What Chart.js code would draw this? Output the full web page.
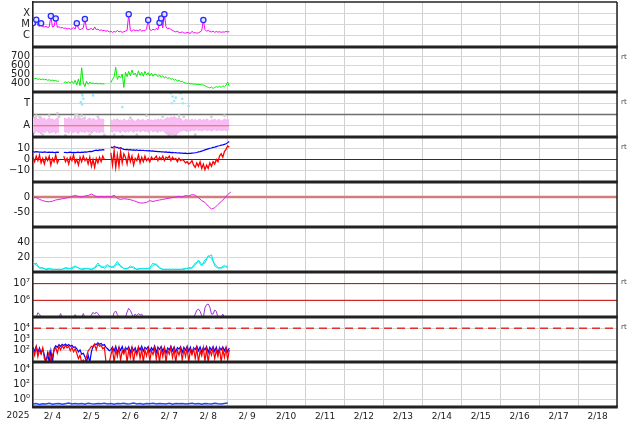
<!DOCTYPE html>
<html>
<head>
<meta charset="utf-8">
<script src="https://cdn.jsdelivr.net/npm/chart.js@4"></script>
<style>
  html, body { margin: 0; padding: 0; background: #fff; }
  canvas { display: block; }
</style>
</head>
<body>
<canvas id="chart" width="634" height="424"></canvas>
<script>
// x axis: days from 2/4 00:00, series are hourly samples unless noted
const dayLabels = ['2/ 4', '2/ 5', '2/ 6', '2/ 7', '2/ 8', '2/ 9', '2/10', '2/11', '2/12', '2/13', '2/14', '2/15', '2/16', '2/17', '2/18'];

// panel 1: x-ray flux in units of 1e-6 W/m2 (C1 = 1, M1 = 10, X1 = 100)
const xrayFlux = [13.5, 9, 27, 8, 7, 13, 6.5, 6, 6.8, 5.5,
  6, 57, 6, 7, 35, 5.5, 6.5, 5, 5.5, 4.5,
  4.8, 4, 4.5, 3.8, 4.2, 5.5, 4, 13, 4.5, 3.5,
  4, 5, 31, 4, 3.5, 3.8, 4.5, 3.2, 6, 3.5,
  3.8, 3, 3.3, 2.8, 3, 2.5, 2.8, 2.2, 2.5, 2,
  2.4, 2.1, 3, 2.2, 2.5, 2, 2.3, 2.6, 3, 81,
  3, 2.5, 3.5, 2.8, 3.2, 2.6, 3.8, 2.5, 3, 2.8,
  4, 25, 3.5, 3, 3.8, 3.2, 4.5, 3.5, 14.5, 35,
  5, 81, 6, 4, 5, 3.5, 3, 2.5, 2.2, 2.5,
  2, 1.9, 2.2, 1.8, 1.7, 2, 1.8, 1.6, 2.5, 1.8,
  1.9, 1.7, 1.8, 2.2, 2.8, 25, 3.5, 2.5, 3, 2.4,
  2.2, 2.6, 2, 2.4, 2.1, 2.3, 2, 2.2, 2.1, 2.4,
  2.2, 2.3];
const flareHours = [0, 2, 5, 11, 14, 27, 32, 59, 71, 78, 79, 81, 105];

// panel 2: solar wind speed km/s
const windSpeed = [455, 448, 452, 440, 446, 438, 444, 436, 440, 430, 436, 428, 432, 424, 428, 418, 422,
  null, null,
  405, 412, 400, 415, 398, 420, 395, 430, 380, 445, 370, 570, 400, 360, 420, 385, 410, 395, 400, 392, 398, 388, 395, 390, 392, 388,
  null, null, null,
  405, 440, 470, 575, 440, 480, 455, 500, 350,
  520, 470, 530, 480, 545, 490, 510, 470, 535, 485, 520, 475, 530, 490, 515, 480, 510, 475, 500,
  495, 470, 490, 465, 480, 455, 470, 450, 460, 440, 450, 430, 440, 420, 430, 415, 420,
  405, 400, 395, 398, 390, 392, 386, 388, 384, 385, 382, 380, 378,
  370, 360, 352, 345, 355, 340, 350,
  360, 352, 365, 350, 370, 358, 375, 410, 365];

// panel 3: IMF sector (T = +0.5, A = -0.5), upper and lower edge of the away cloud
const sectorHi = [-0.15, -0.2, -0.12, -0.25, -0.18, -0.1, -0.22, -0.15, -0.28, -0.2, -0.14, -0.24, -0.18, -0.3, -0.2, -0.16, -0.22,
  null, null,
  -0.2, -0.15, -0.25, -0.12, -0.2, -0.28, -0.18, -0.1, -0.22, -0.16, -0.26, -0.2, -0.14, -0.24, -0.3, -0.2, -0.15, -0.25, -0.18, -0.22, -0.28, -0.2, -0.16, -0.24, -0.2, -0.26,
  null, null, null,
  -0.22, -0.3, -0.2, -0.26, -0.18, -0.28, -0.24, -0.32, -0.2, -0.26,
  -0.3, -0.22, -0.28, -0.2, -0.26, -0.32, -0.24, -0.2, -0.28, -0.25,
  -0.22, -0.3, -0.26, -0.2, -0.28, -0.24, -0.3, -0.22, -0.26, -0.2,
  -0.24, -0.2, -0.26, -0.22, -0.18, -0.12, -0.2, -0.1, -0.16, -0.08,
  -0.14, -0.2, -0.12, -0.18, -0.26, -0.3, -0.2, -0.25, -0.22, -0.28,
  -0.2, -0.26, -0.22, -0.3, -0.24, -0.2, -0.28, -0.22, -0.26, -0.2,
  -0.24, -0.3, -0.22, -0.26, -0.2, -0.28, -0.24, -0.22, -0.3, -0.26,
  -0.2, -0.24, -0.28, -0.22];
const sectorLo = [-0.75, -0.85, -0.7, -0.8, -0.78, -0.88, -0.72, -0.82, -0.76, -0.7, -0.84, -0.78, -0.8, -0.72, -0.86, -0.76, -0.8,
  null, null,
  -0.72, -0.8, -0.76, -0.84, -0.7, -0.78, -0.82, -0.74, -0.8, -0.86, -0.72, -0.78, -0.76, -0.82, -0.7, -0.8, -0.74, -0.84, -0.78, -0.72, -0.8, -0.76, -0.82, -0.74, -0.78, -0.8,
  null, null, null,
  -0.74, -0.8, -0.7, -0.78, -0.72, -0.76, -0.82, -0.7, -0.75, -0.8,
  -0.72, -0.78, -0.7, -0.74, -0.8, -0.72, -0.76, -0.7, -0.78, -0.74,
  -0.7, -0.76, -0.72, -0.8, -0.74, -0.7, -0.78, -0.72, -0.76, -0.8,
  -0.72, -0.76, -0.7, -0.78, -0.84, -0.9, -0.8, -0.92, -0.86, -0.8,
  -0.9, -0.84, -0.78, -0.74, -0.72, -0.7, -0.72, -0.76, -0.7, -0.74,
  -0.68, -0.72, -0.7, -0.66, -0.72, -0.68, -0.74, -0.7, -0.66, -0.72,
  -0.7, -0.68, -0.74, -0.7, -0.66, -0.72, -0.7, -0.68, -0.72, -0.7,
  -0.68, -0.72, -0.7, -0.66];
const grayHours = [1, 2, 4, 6, 10, 15, 16, 20, 26, 27, 28, 29, 30, 32, 35, 40, 44, 50, 55, 60, 64, 70, 80, 84, 86, 87, 88, 90, 93, 100, 110, 118];
const grayVal = [-0.15, -0.05, -0.1, -0.9, -0.05, 0.05, -0.1, -0.92, -0.05, 0, -0.1, -0.2, -0.05, -0.15, -0.9, -0.1, -0.92, -0.9, -0.95, -0.15, -0.9, -0.05, -0.1, -0.92, -0.85, -0.95, -0.9, -0.05, -0.1, -0.9, -0.1, -0.05];
const cyanHours = [29.5, 30, 30.2, 30.5, 31, 37, 55, 85, 85.5, 86, 87, 88, 91, 92, 92.5, 96];
const cyanVal = [0.55, 0.95, 0.45, 0.85, 0.7, 0.85, 0.33, 0.95, 0.5, 0.8, 0.6, 0.75, 0.95, 0.7, 0.5, 0.38];

// panel 4: IMF Bt and Bz, nT
const imfBt = [7, 6.5, 7, 6.8, 6.5, 6.6, 6.4, 6.8, 6.5, 6.3, 6.6, 6.4, 6.5, 6.2, 6.4, 6.6, 6.3,
  null, null,
  6.2, 6.4, 6, 6.3, 6.5, 6.2, 6.4, 6.1, 6.3, 6.5, 6.2, 6.6, 6.4, 6.8, 6.5, 6.9, 7.2, 7, 7.5, 8, 8.3, 8, 8.6, 8.4, 8.8, 8.5,
  null, null, null,
  11, 10.5, 11.5, 11, 10.8, 10, 10.5, 9.5, 9,
  8.8, 9, 8.5, 8.7, 8.4, 8.6, 8.2, 8.5, 8, 8.3, 8, 8.2, 7.8, 8, 7.6, 7.8, 7.5, 7.6, 7.3,
  7.2, 7, 7.1, 6.8, 6.9, 6.6, 6.7, 6.4, 6.5, 6.2, 6.3, 6, 6.1, 5.8, 5.9, 5.6, 5.7,
  5.5, 5.6, 5.3, 5.5, 5.4, 5.6, 5.8, 6, 6.2, 6.8, 7, 7.5, 8,
  8.5, 9, 9.5, 10, 10.2, 10.8, 11,
  11.5, 12, 12.2, 12.8, 13, 13.5, 14, 15, 16];
const imfBz = [2, -2, 3, -1, 4, -3, 1, -4, 2, -1, 3, -5, 1, -2, 4, -3, 0,
  null, null,
  3, -2, 1, -4, 2, -1, 4, -3, 0, -5, 2, -2, 3, -1, 1, -4, 2, -6, 0, -7, 1, -3, 2, -2, 3, 0,
  null, null, null,
  6, -5, 8, -7, 4, -6, 7, -3, 5,
  2, -4, 5, -2, 3, -5, 1, -1, 4, -3, 2, -2, 3, -1, 1, -2, 2, 0, 1,
  3, -1, 2, 0, 3, -1, 2, 1, 3, -1, 2, 0, 1, -2, 1, -1, 0,
  -1, -3, -2, -4, -3, -1, -5, -7, -3, -6, -2, -8, -4,
  -9, -5, -8, -3, -6, -2, -4,
  0, -2, 3, 5, 2, 7, 9, 12, 11];

// panel 5: Dst, nT (2-hour samples)
const dstVal = [0, -2, -8, -12, -15, -16, -14, -10, -8, -6, -4, -2, 2, 5, 2, 0, 3, 5, 10, 4,
  0, 2, 0, 2, 0, 6, -5, -8, -6, -7, -9, -12, -16, -20, -20, -18, -12, -15, -12, -10,
  -8, -6, -4, -2, 0, 2, 0, 5, 3, 8, 6, -2, -12, -18, -30, -40, -36, -25, -15, -5, 8, 17];

// panel 6: two cyan traces (2-hour samples)
const cyanA = [13, 9, 6, 5, 4, 5, 3, 4, 3, 4, 5, 4, 6, 8, 5, 4, 5, 4, 4, 6,
  12, 6, 7, 10, 6, 8, 14, 7, 5, 4, 8, 5, 4, 4, 5, 4, 6, 12, 9, 5,
  4, 3, 4, 3, 4, 3, 4, 5, 4, 6, 12, 14, 8, 16, 20, 23, 8, 5, 6, 9, 5];
const cyanB = [10, 12, 5, 6, 3, 4, 4, 3, 4, 3, 6, 5, 4, 7, 6, 3, 4, 5, 3, 5,
  9, 8, 5, 8, 7, 6, 11, 9, 4, 5, 6, 7, 3, 5, 4, 5, 4, 9, 11, 6,
  3, 4, 3, 4, 3, 4, 3, 4, 6, 5, 9, 16, 10, 12, 22, 18, 11, 6, 5, 7, 8];

// panel 7: purple flux (log)
const purpleFlux = [9.5e4, 9.5e4, 9.5e4, 1.8e5, 1.5e5, 9.5e4, 9.5e4, 9.5e4, 9.5e4, 9.5e4,
  9.5e4, 9.5e4, 9.5e4, 9.5e4, 9.5e4, 9.5e4, 9.5e4, 1.6e5, 9.5e4, 9.5e4,
  9.5e4, 9.5e4, 9.5e4, 9.5e4, 9.5e4, 9.5e4, 1.4e5, 9.5e4, 9.5e4, 9.5e4,
  9.5e4, 1.6e5, 9.5e4, 9.5e4, 9.5e4, 9.5e4, 1.3e5, 1.9e5, 1.5e5, 2.0e5,
  1.6e5, 1.2e5, 9.5e4, 9.5e4, 9.5e4, 9.5e4, 9.5e4, 9.5e4, 9.5e4, 9.5e4,
  1.8e5, 2.3e5, 1.4e5, 9.5e4, 9.5e4, 9.5e4, 9.5e4, 9.5e4, 2.0e5, 3.3e5,
  2.5e5, 1.5e5, 9.5e4, 1.5e5, 1.2e5, 1.6e5, 1.3e5, 1.5e5, 9.5e4, 9.5e4,
  9.5e4, 9.5e4, 9.5e4, 9.5e4, 9.5e4, 9.5e4, 9.5e4, 9.5e4, 9.5e4, 9.5e4,
  9.5e4, 9.5e4, 9.5e4, 9.5e4, 9.5e4, 9.5e4, 9.5e4, 9.5e4, 9.5e4, 9.5e4,
  9.5e4, 9.5e4, 9.5e4, 9.5e4, 9.5e4, 9.5e4, 9.5e4, 9.5e4, 9.5e4, 9.5e4,
  1.5e5, 2.6e5, 3.0e5, 2.2e5, 1.2e5, 9.5e4, 3.5e5, 5.5e5, 6.0e5, 4.0e5,
  1.5e5, 1.5e5, 2.6e5, 2.2e5, 9.5e4, 9.5e4, 9.5e4, 1.5e5, 9.5e4, 9.5e4,
  9.5e4, 9.5e4];
const protonLevels = [1e7, 1e6];

// panel 8: electron flux, two channels (log)
const elecBlue = [200, 90, 250, 70, 180, 60, 150, 40,
  9.5, 60, 9.5, 100, 9.5,
  150, 280, 200, 350, 250, 380, 300, 400, 280, 350, 250, 300, 200, 220,
  150, 80, 120, 50, 60, 30,
  9.5, 40, 9.5, 80,
  250, 400, 350, 500, 380, 450, 300, 350,
  200, 150, 100,
  120, 220, 90, 250, 70, 200, 110, 240, 80, 190,
  130, 230, 70, 210, 100, 180, 60, 220, 120, 250,
  90, 200, 140, 230, 80, 190, 110, 260, 70, 210,
  130, 240, 90, 200, 60, 180, 120, 250, 100, 220,
  80, 190, 140, 230, 70, 200, 110, 240, 90, 210,
  60, 180, 130, 250, 100, 220, 80, 190, 120, 240,
  70, 200, 110, 230, 90, 210, 60, 190, 120, 220,
  100, 200, 80, 180];
const elecRed = [150, 40, 220, 30, 120, 50, 180, 20,
  9.5, 30, 80, 9.5, 40,
  100, 200, 60, 250, 120, 280, 150, 300, 180, 250, 100, 200, 80, 150,
  60, 20, 40, 9.5, 15, 9.5,
  30, 100, 150, 250,
  200, 350, 120, 400, 250, 300, 150, 200,
  9.5, 9.5, 9.5,
  40, 150, 9.5, 120, 30, 180, 15, 100, 50, 160,
  9.5, 130, 25, 170, 10, 110, 40, 190, 20, 140,
  9.5, 120, 35, 160, 12, 100, 45, 180, 18, 130,
  9.5, 150, 30, 170, 10, 120, 50, 200, 25, 140,
  9.5, 110, 40, 160, 15, 130, 30, 180, 9.5, 120,
  45, 150, 20, 170, 10, 100, 35, 190, 12, 140,
  9.5, 120, 40, 160, 20, 110, 30, 150, 9.5, 130,
  25, 170, 15, 120];
const electronLevel = 1e4;

// panel 9: low blue trace (2-hour samples)
const lowFlux = [0.25, 0.3, 0.22, 0.28, 0.25, 0.32, 0.24, 0.27, 0.3, 0.23,
  0.28, 0.33, 0.25, 0.3, 0.26, 0.29, 0.24, 0.31, 0.27, 0.25,
  0.3, 0.28, 0.32, 0.26, 0.29, 0.24, 0.3, 0.27, 0.31, 0.25,
  0.28, 0.33, 0.26, 0.3, 0.24, 0.29, 0.27, 0.32, 0.25, 0.3,
  0.28, 0.26, 0.31, 0.24, 0.29, 0.27, 0.3, 0.25, 0.28, 0.32,
  0.26, 0.29, 0.24, 0.3, 0.27, 0.25, 0.31, 0.28, 0.26, 0.3,
  0.33];

const hourly = (vals, step = 1) => vals.map((v, i) => ({ x: i * step / 24, y: v }));
const pairs = (hours, vals) => hours.map((h, i) => ({ x: h / 24, y: vals[i] }));
const flat = (y, x1 = 15) => [{ x: 0, y: y }, { x: x1, y: y }];
const dataEnd = (windSpeed.length - 1) / 24;
const panelIds = ['p1', 'p2', 'p3', 'p4', 'p5', 'p6', 'p7', 'p8', 'p9'];

function line(axis, data, color, width, extra) {
  return Object.assign({
    yAxisID: axis, data: data, borderColor: color, backgroundColor: color,
    borderWidth: width || 1, pointRadius: 0, fill: false, tension: 0
  }, extra || {});
}
function dots(axis, data, color, r, extra) {
  return Object.assign({
    yAxisID: axis, data: data, showLine: false, pointRadius: r, pointBorderWidth: 0,
    pointBackgroundColor: color, borderColor: color, order: 5
  }, extra || {});
}

const sup = { 0: '⁰', 1: '¹', 2: '²', 3: '³', 4: '⁴', 5: '⁵', 6: '⁶', 7: '⁷' };
const pow = v => '10' + sup[Math.round(Math.log10(v))];

function panel(weight, type, min, max, ticks, label) {
  return {
    type: type, min: min, max: max, position: 'left', stack: 'panels', stackWeight: 1, weight: weight,
    grid: { color: '#d6d6d6', drawTicks: false },
    border: { display: true, color: '#222', width: 1.5 },
    ticks: {
      color: '#222', font: { family: 'DejaVu Sans', size: 10 }, padding: 3, autoSkip: false,
      callback: (v, i) => label(ticks[i], i)
    },
    afterBuildTicks: s => { s.ticks = ticks.map(v => ({ value: v })); },
    afterFit: s => { s.width = 33; s.paddingTop = 0; s.paddingBottom = 0; }
  };
}

const frame = {
  id: 'frame',
  afterDraw(chart) {
    const { ctx, chartArea: a } = chart;
    ctx.save();
    ctx.strokeStyle = '#222';
    ctx.lineWidth = 1.5;
    ctx.beginPath();
    ctx.moveTo(a.right, a.top);
    ctx.lineTo(a.right, a.bottom);
    ctx.stroke();
    ctx.lineWidth = 3;
    panelIds.forEach(id => {
      const s = chart.scales[id];
      ctx.beginPath();
      ctx.moveTo(a.left - 0.75, s.bottom);
      ctx.lineTo(a.right + 0.75, s.bottom);
      ctx.stroke();
    });
    ctx.lineWidth = 1.5;
    ctx.beginPath();
    ctx.moveTo(a.left, a.top);
    ctx.lineTo(a.right, a.top);
    ctx.stroke();
    ctx.fillStyle = '#444';
    ctx.font = '7px "DejaVu Sans"';
    ctx.textAlign = 'left';
    ctx.textBaseline = 'middle';
    ['p2', 'p3', 'p4', 'p7', 'p8'].forEach(id => ctx.fillText('rt', a.right + 4, chart.scales[id].top + 10));
    ctx.fillStyle = '#222';
    ctx.font = '9px "DejaVu Sans"';
    ctx.textAlign = 'center';
    ctx.fillText('2025', 18, 416);
    ctx.restore();
  }
};

const datasets = [
  // panel 1
  dots('p1', flareHours.map(h => ({ x: h / 24, y: xrayFlux[h] })), '#e4e4ff', 2.6,
    { pointBorderWidth: 1.3, pointBorderColor: '#2b2bff', order: -1 }),
  line('p1', hourly(xrayFlux), '#ff00ff', 1),
  // panel 2
  line('p2', hourly(windSpeed), '#00ee00', 1),
  // panel 3
  dots('p3', pairs(cyanHours, cyanVal), '#9be6fb', 1.3),
  line('p3', flat(-0.5, dataEnd), '#e46a6a', 1, { order: 1 }),
  line('p3', hourly(sectorLo), '#f7b2f0', 1, { order: 2 }),
  line('p3', hourly(sectorHi), '#f7b2f0', 1, { order: 2, fill: '-1', backgroundColor: '#f8bdf2' }),
  dots('p3', pairs(grayHours, grayVal), '#cfcfcf', 1.4, { order: 3 }),
  line('p3', flat(0), '#6e6e6e', 1.5, { order: 9 }),
  // panel 4
  line('p4', hourly(imfBz), '#ff0000', 1.3),
  line('p4', hourly(imfBt), '#0000ff', 1.2, { order: 1 }),
  line('p4', flat(0), '#a00000', 1, { order: 9 }),
  // panel 5
  line('p5', hourly(dstVal, 2), '#e020e0', 1),
  line('p5', flat(0), '#d47b7b', 2.5, { order: 9 }),
  // panel 6
  line('p6', hourly(cyanA, 2), '#00e6e6', 1),
  line('p6', hourly(cyanB, 2), '#00e6e6', 1),
  // panel 7
  line('p7', hourly(purpleFlux), '#9a35cf', 1),
  line('p7', flat(protonLevels[0]), '#c80000', 1, { order: 9 }),
  line('p7', flat(protonLevels[1]), '#c80000', 1, { order: 9 }),
  // panel 8
  line('p8', hourly(elecRed), '#ff0000', 1.2),
  line('p8', hourly(elecBlue), '#0000ff', 1.2, { order: 1 }),
  line('p8', flat(electronLevel), '#e03030', 1.3, { order: 9, borderDash: [8, 5] }),
  // panel 9
  line('p9', hourly(lowFlux, 2), '#2244ff', 1.5)
];

new Chart(document.getElementById('chart'), {
  type: 'line',
  data: { datasets: datasets },
  options: {
    responsive: false,
    animation: false,
    events: [],
    layout: { autoPadding: false, padding: { left: 0, right: 17, top: 2, bottom: 0 } },
    plugins: { legend: { display: false }, tooltip: { enabled: false } },
    scales: {
      x: {
        type: 'linear', min: 0, max: 15, position: 'bottom',
        grid: { color: '#d0d0d0', offset: true, drawTicks: false },
        border: { display: false },
        ticks: {
          color: '#222', font: { family: 'DejaVu Sans', size: 9 }, padding: 4,
          autoSkip: false, maxRotation: 0, callback: (v, i) => dayLabels[i]
        },
        afterBuildTicks: s => { s.ticks = dayLabels.map((d, i) => ({ value: i + 0.5 })); },
        afterFit: s => { s.height = 17; s.paddingLeft = 0; s.paddingRight = 0; }
      },
      p1: panel(9, 'logarithmic', 0.1, 1000, [1, 10, 100], (v, i) => ['C', 'M', 'X'][i]),
      p2: panel(8, 'linear', 300, 800, [400, 500, 600, 700], v => String(v)),
      p3: panel(7, 'linear', -1, 1, [-0.5, 0.5], v => v > 0 ? 'T' : 'A'),
      p4: panel(6, 'linear', -20, 20, [-10, 0, 10], v => v < 0 ? '−10' : String(v)),
      p5: panel(5, 'linear', -100, 50, [-50, 0], v => String(v)),
      p6: panel(4, 'linear', 0, 60, [20, 40], v => String(v)),
      p7: panel(3, 'logarithmic', 1e5, 5e7, [1e6, 1e7], pow),
      p8: panel(2, 'logarithmic', 10, 1e5, [1e2, 1e3, 1e4], pow),
      p9: panel(1, 'logarithmic', 0.1, 1e5, [1, 1e2, 1e4], pow)
    }
  },
  plugins: [frame]
});
</script>
</body>
</html>
